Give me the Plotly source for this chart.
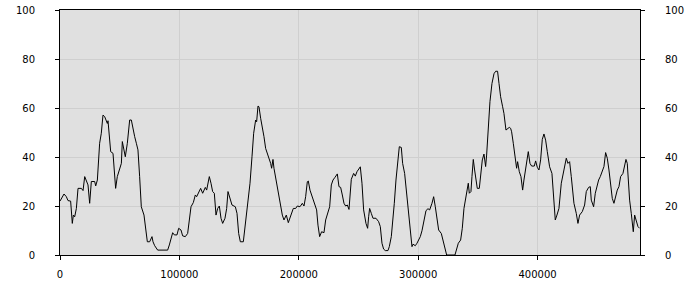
import plotly.graph_objects as go

# sample positions (x) and values (y)
x_values = [
    0, 3350, 5300, 6700, 8900, 10300, 11200, 12300, 13700, 15100,
    17900, 19300, 20700, 22100, 23450, 24850, 26250, 29050, 29900, 31300,
    31800, 33200, 34600, 36000, 37400, 38800, 39650, 40200, 41050, 42450,
    44400, 45800, 46600, 48000, 50000, 51400, 52200, 53300, 54700, 56400,
    57500, 58350, 59750, 61150, 62550, 63950, 65300, 66700, 68100, 70350,
    71750, 73150, 75100, 77050, 77900, 79300,
    81800, 90170, 91570, 92960, 94360, 95760, 97990, 99390, 101340, 102740,
    104970, 106920, 108320, 109720, 111670, 113350, 114460, 116140, 117810, 119490,
    121720, 122840, 123680, 125070, 126470, 127860, 129260, 130660, 132050, 133450,
    134840, 136240, 138190, 139590, 140710, 142380, 144060, 146850, 148250, 149640,
    151040, 153550, 155230, 157180, 159140, 160810, 162210,
    163870, 164710, 165830, 166660, 168060, 169460, 170850, 172250, 173640, 175040,
    176440, 177270, 178390, 179230, 180620, 182020, 183420, 184810, 186210, 187600,
    189560, 191230, 193190, 195420, 197380, 198770, 201000, 202960, 204360, 205750,
    207150, 207980, 209380, 210780, 212170, 213570, 214960, 216080, 217480, 219150,
    221110, 222510, 224460, 225860, 227250, 228650, 230320, 232280, 233670, 235070,
    236470, 237860, 239260, 240660, 242050, 244000,
    245950, 247340, 248740, 251530, 252930, 254320, 256280, 257670, 258510, 259350,
    260740, 262140, 264650, 266880, 268280, 269680, 271070, 272470, 274700, 275820,
    277500, 278610, 280010, 281400, 282800, 284200, 285870, 286990, 288660, 289780,
    291180, 292570, 293970, 294810, 295640, 297600, 298990, 300390, 301790, 303180,
    304580, 306530, 308210, 309610, 311560, 312960, 314350, 315750, 317150, 319380,
    320780, 322170, 323850,
    330810, 332210, 333610, 335560, 336950, 338350, 339750, 341140, 341980, 342820,
    344210, 345050, 346170, 347280, 348400, 349520, 351200, 352590, 353710, 355110,
    356500, 357340, 358180, 359290, 360130,
    361800, 363500, 364900, 366500, 367700, 369060, 370740, 371850, 373530, 374920,
    376320, 377440, 378270, 379670, 381070, 382460, 383300, 384700, 386090, 387490,
    388600, 390000, 392230, 393630, 395030, 397260, 398380, 399770, 401170, 402560,
    403960, 405360, 406750, 408150,
    410100, 412050, 413450, 414840, 416240, 417910, 419870, 422100, 424060, 425450,
    426850, 428240, 430480, 432430, 433830, 435230, 437460, 439410, 440810, 442760,
    444160, 444990, 446950, 448350, 449740, 451140, 452540, 454210, 455610, 457000,
    458400, 459800, 461190, 462590, 463980, 465380, 466770, 468170, 469570, 471520,
    472920, 474040, 475150, 476270, 477110, 478500, 479340, 480180, 481300, 482690,
    484090, 485490,
]

y_values = [
    22, 24.9, 23.8, 22.2, 22, 12.9, 16.3, 15.6, 19, 27.2,
    27.2, 26.3, 32, 30.6, 28.6, 21.1, 30, 30, 28.2, 30.6,
    36, 45.6, 49.7, 57.1, 56.5, 55.1, 53.7, 54.8, 51, 42.2,
    41.5, 30.6, 27.2, 32, 34.7, 37.4, 46.3, 42.9, 40.1, 45.6,
    51, 55.1, 55.1, 51, 48.3, 45.6, 42.9, 32, 19.7, 16.3,
    10.9, 5.4, 5.4, 7.5, 5.4, 3.8,
    2, 2, 4.1, 6.8, 9.1, 8.2, 8.2, 10.9, 10.2, 7.8,
    7.5, 8.8, 14.3, 19.7, 21.4, 24.5, 23.8, 25.4, 27.2, 25.2,
    27.6, 26.5, 29.3, 32, 29.3, 25.9, 25.2, 16.3, 19, 20,
    15, 12.9, 15, 19, 25.9, 23.1, 20.4, 19.7, 17, 8.8,
    5.4, 5.4, 12.9, 21.1, 29.3, 40.1, 49.7,
    55.1, 54.4, 60.8, 60.5, 55.8, 52.4, 48.3, 43.5, 41.5, 40.1,
    37.4, 35.4, 39, 35.4, 31.3, 28.6, 23.8, 19.7, 16.3, 14.3,
    16.3, 13.2, 15.6, 19, 19, 20, 19.7, 21.1, 20, 23.8,
    29.9, 30.2, 26.5, 24.5, 22.4, 19.7, 18.4, 12.2, 7.5, 9.5,
    9.1, 14.3, 17.7, 19.7, 28.6, 30.6, 31.7, 33.1, 27.9, 27.6,
    24.5, 21.1, 20, 20.4, 18.6, 30.9,
    33.3, 32.2, 34, 36, 29.3, 18.4, 12.9, 10.9, 15.6, 19,
    17, 15, 15, 13.6, 11.6, 4.8, 2.4, 1.8, 1.8, 3.4,
    7.5, 12.9, 21.1, 30.6, 38.8, 44.2, 43.9, 37.4, 33.3, 27.9,
    21.1, 12.9, 5, 3.4, 4.4, 3.8, 4.8, 6.1, 7.5, 9.9,
    12.9, 18.1, 18.9, 18.4, 21.1, 23.8, 19.7, 13.6, 10.2, 8.8,
    6.1, 3.4, 0,
    0, 2, 4.8, 6.1, 10.9, 19, 23.1, 27.9, 29.3, 25.2,
    25.9, 32, 39, 34.7, 30.6, 27.2, 27.2, 34.7, 38.8, 41.2,
    36.1, 40.8, 48.3, 56.5, 62.6,
    70, 74, 75, 75, 70, 64.6, 60.5, 57.8, 51, 51.7,
    52.1, 51.7, 50.3, 45.6, 40.1, 35.4, 38.1, 34, 32, 26.5,
    30.6, 35.4, 42.2, 37.4, 36.3, 36.3, 38.4, 35.8, 34.7, 38.8,
    47.2, 49.4, 46.9, 42.2,
    36, 33.3, 23.8, 14.3, 16.3, 19, 29.3, 34.7, 39.5, 37.4,
    38.1, 32, 21.1, 17, 12.9, 16.3, 17.7, 20.4, 25.9, 27.6,
    27.9, 22.4, 19.7, 25.2, 27.9, 30.6, 32, 34.7, 36.1, 41.8,
    39.5, 34.7, 28.6, 23.1, 21.1, 23.8, 26.5, 27.9, 32, 33.3,
    36.1, 39, 37.4, 29.3, 22.4, 17, 12.2, 9.5, 16.3, 14.3,
    11.6, 10.9,
]

x_ticks = [0, 100000, 200000, 300000, 400000]
y_ticks = [0, 20, 40, 60, 80, 100]
x_max = 485800

assert len(x_values) == len(y_values), (len(x_values), len(y_values))

fig = go.Figure()
fig.add_trace(go.Scatter(x=x_values, y=y_values, mode="lines",
                         line=dict(color="#000000", width=1), hoverinfo="skip"))
# invisible copy so the right-hand axis is drawn
fig.add_trace(go.Scatter(x=x_values, y=y_values, mode="lines", yaxis="y2",
                         line=dict(color="rgba(0,0,0,0)", width=0), hoverinfo="skip"))

font = dict(family="DejaVu Sans", size=10, color="#000000")
fig.update_layout(
    width=700, height=300,
    margin=dict(l=60, r=60, t=10, b=45, autoexpand=False),
    paper_bgcolor="#ffffff", plot_bgcolor="#e0e0e0",
    showlegend=False, font=font,
    xaxis=dict(range=[0, x_max], tickvals=x_ticks, ticktext=[str(v) for v in x_ticks],
               showgrid=True, gridcolor="#cfcfcf", gridwidth=1, zeroline=False,
               showline=True, linecolor="#000000", linewidth=1, mirror=True,
               ticks="outside", ticklen=4, tickcolor="#000000", automargin=False,
               ticklabelstandoff=6, tickfont=font),
    yaxis=dict(range=[0, 100], tickvals=y_ticks, showgrid=True, gridcolor="#cfcfcf",
               gridwidth=1, zeroline=False, showline=True, linecolor="#000000",
               linewidth=1, mirror=True, ticks="outside", ticklen=4, tickcolor="#000000",
               automargin=False, ticklabelstandoff=18, tickfont=font),
    yaxis2=dict(range=[0, 100], tickvals=y_ticks, overlaying="y", side="right",
                showgrid=False, zeroline=False, showline=False,
                ticks="outside", ticklen=4, tickcolor="#000000", automargin=False,
                ticklabelstandoff=18, tickfont=font),
)

fig.write_html("out.html")
